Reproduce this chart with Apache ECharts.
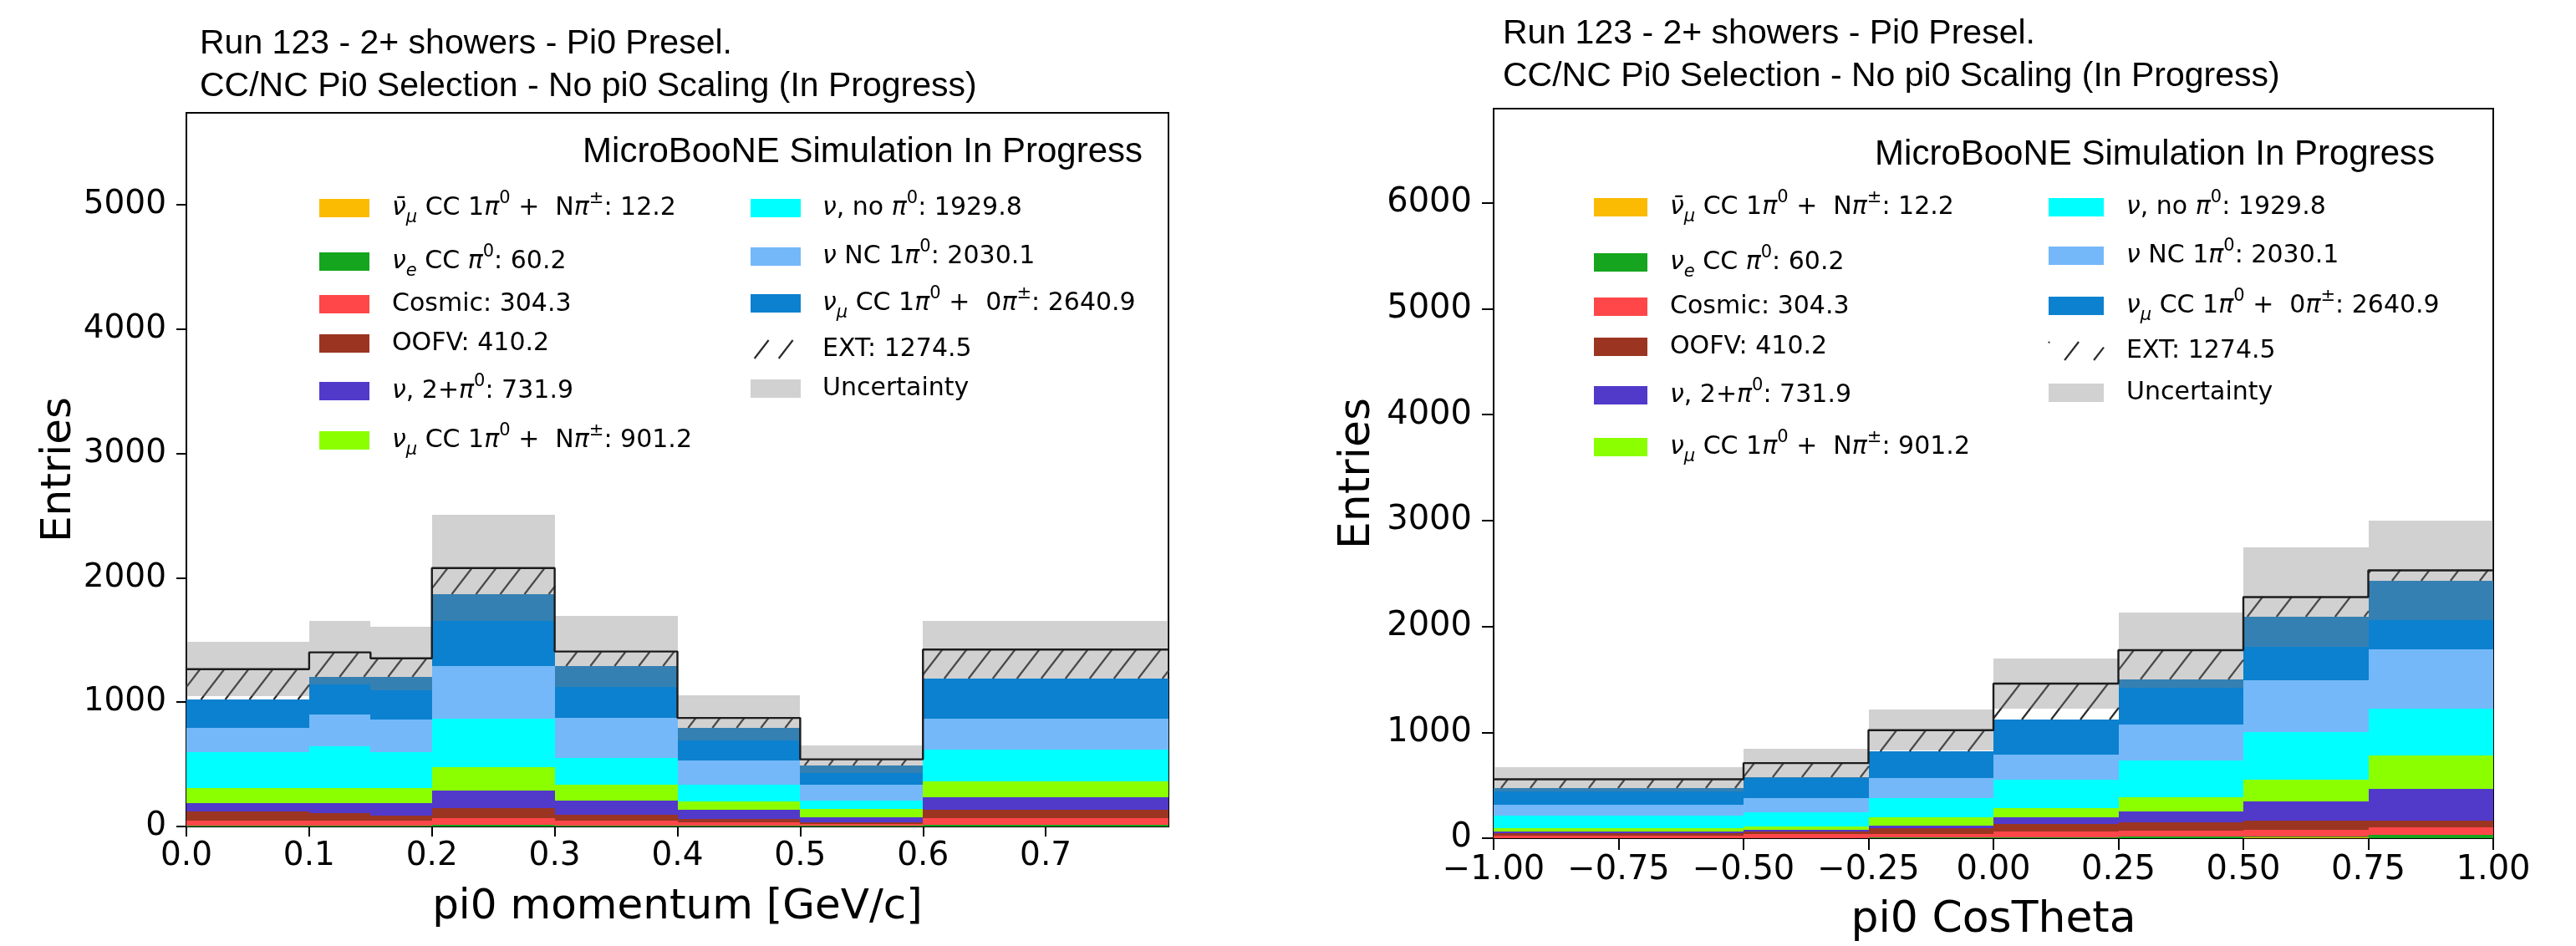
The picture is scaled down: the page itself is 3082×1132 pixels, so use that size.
<!DOCTYPE html>
<html>
<head>
<meta charset="utf-8">
<title>pi0 momentum / CosTheta - stacked</title>
<script src="https://cdn.jsdelivr.net/npm/echarts@6/dist/echarts.min.js"></script>
<style>
html, body { margin: 0; padding: 0; background: #fff; }
#chart { width: 3082px; height: 1132px; }
</style>
</head>
<body>
<div id="chart"></div>
<script>
// bin edges
var momEdges = [0.0, 0.1, 0.15, 0.2, 0.3, 0.4, 0.5, 0.6, 0.8];
var cosEdges = [-1.0, -0.5, -0.25, 0.0, 0.25, 0.5, 0.75, 1.0];

// tick labels
var momXTicks = [0.0, 0.1, 0.2, 0.3, 0.4, 0.5, 0.6, 0.7];
var momYTicks = [0, 1000, 2000, 3000, 4000, 5000];
var cosXTicks = [-1.0, -0.75, -0.5, -0.25, 0.0, 0.25, 0.5, 0.75, 1.0];
var cosYTicks = [0, 1000, 2000, 3000, 4000, 5000, 6000];

// pi0 momentum: entries per bin, bottom of the stack first
var momNumubarCC = [1.5, 1.5, 1.5, 2.5, 1.5, 1, 0.5, 2];
var momNueCC = [8, 8, 7, 11, 8, 5, 3, 10];
var momCosmic = [40, 40, 41, 54, 40, 28, 18, 55];
var momOOFV = [74, 58, 41, 79, 45, 26, 12, 67];
var momMultiPi0 = [66, 82, 101, 143, 111, 72, 42, 103];
var momNumuCCNpi = [119, 119, 117, 186, 130, 73, 64, 123];
var momNoPi0 = [292, 337, 292, 393, 213, 130, 70, 259];
var momNC1pi0 = [190, 252, 261, 420, 325, 199, 129, 249];
var momNumuCC0pi = [230, 308, 339, 582, 415, 261, 150, 325];
var momEXT = [245, 195, 152, 208, 119, 78, 52, 230];
var momUncert = [220, 256, 257, 427, 285, 183, 111, 233];

// pi0 CosTheta
var cosNumubarCC = [0.3, 0.5, 0.8, 1, 1.5, 7, 1.5];
var cosNueCC = [1.7, 2.5, 3.2, 9, 10.5, 5, 30];
var cosCosmic = [25, 33, 38, 56, 62, 70, 70];
var cosOOFV = [20, 24, 49, 69, 74, 87, 67.5];
var cosMultiPi0 = [13, 15, 29, 65, 104, 182, 299];
var cosNumuCCNpi = [31, 37, 75, 81, 138, 200, 317];
var cosNoPi0 = [125, 130, 182, 273, 346, 450, 441];
var cosNC1pi0 = [99, 140, 193, 234, 339, 492, 561];
var cosNumuCC0pi = [156, 198, 249, 334, 426, 599, 641];
var cosEXT = [85, 129, 201, 338, 275, 185, 102];
var cosUncert = [112, 138, 193, 239, 355, 473, 470];

var legendLabels = [
  '{i|ν̄}{sub|μ}{r| CC 1}{i|π}{sup|0}{r| +  N}{i|π}{sup|±}{r|: 12.2}',
  '{i|ν}{sub|e}{r| CC }{i|π}{sup|0}{r|: 60.2}',
  '{r|Cosmic: 304.3}',
  '{r|OOFV: 410.2}',
  '{i|ν}{r|, 2+}{i|π}{sup|0}{r|: 731.9}',
  '{i|ν}{sub|μ}{r| CC 1}{i|π}{sup|0}{r| +  N}{i|π}{sup|±}{r|: 901.2}',
  '{i|ν}{r|, no }{i|π}{sup|0}{r|: 1929.8}',
  '{i|ν}{r| NC 1}{i|π}{sup|0}{r|: 2030.1}',
  '{i|ν}{sub|μ}{r| CC 1}{i|π}{sup|0}{r| +  0}{i|π}{sup|±}{r|: 2640.9}',
  '{r|EXT: 1274.5}',
  '{r|Uncertainty}'
];

var colors = ['#fbbb03', '#15a51e', '#ff4649', '#9b3522', '#5139ca', '#8bff00', '#00ffff', '#74b8f9', '#0c81cf'];
var uncertFill = 'rgba(128,128,128,0.36)';
var hatchColor = '#2b2b2b';

var panels = [
  {
    edges: momEdges,
    layers: [momNumubarCC, momNueCC, momCosmic, momOOFV, momMultiPi0, momNumuCCNpi, momNoPi0, momNC1pi0, momNumuCC0pi],
    ext: momEXT, err: momUncert,
    xTicks: momXTicks, yTicks: momYTicks,
    xMin: 0, xMax: 0.8, yMax: 5740,
    xFmt: function (v) { return v.toFixed(1); },
    xName: 'pi0 momentum [GeV/c]',
    grid: { left: 223, top: 135, width: 1175, height: 854 },
    tickFont: 39, nameFont: 50, xNameGap: 72, yNameGap: 127, xMargin: 16, yMargin: 24, tickLen: 12,
    hatch: 29, phase: 15,
    title: [239, 53, 104],
    sim: [1367, 182],
    col1: { sx: 382, sw: 60, tx: 469, rows: [249, 313, 364, 411, 468, 527] },
    col2: { sx: 898, sw: 60, tx: 984, rows: [249, 307, 363, 418, 465] }
  },
  {
    edges: cosEdges,
    layers: [cosNumubarCC, cosNueCC, cosCosmic, cosOOFV, cosMultiPi0, cosNumuCCNpi, cosNoPi0, cosNC1pi0, cosNumuCC0pi],
    ext: cosEXT, err: cosUncert,
    xTicks: cosXTicks, yTicks: cosYTicks,
    xMin: -1, xMax: 1, yMax: 6890,
    xFmt: function (v) { return (v < 0 ? '\u2212' : '') + Math.abs(v).toFixed(2); },
    xName: 'pi0 CosTheta',
    grid: { left: 1787, top: 130, width: 1196, height: 882 },
    tickFont: 40, nameFont: 52, xNameGap: 72, yNameGap: 137, xMargin: 19, yMargin: 26, tickLen: 14,
    hatch: 35, phase: 2,
    title: [1798, 41, 92],
    sim: [2913, 185],
    col1: { sx: 1907, sw: 64, tx: 1998, rows: [248, 314, 367, 415, 473, 535] },
    col2: { sx: 2451, sw: 66, tx: 2544, rows: [248, 306, 366, 420, 470] }
  }
];

// hatch lines "/" clipped to a pixel box, anchored to the page so they run across bins
function hatchLines(x0, x1, yT, yB, spacing, phase) {
  var k = 0.77, out = [];
  var c = Math.ceil((x0 + yT * k - phase) / spacing) * spacing + phase;
  for (; c <= x1 + yB * k; c += spacing) {
    var ya = Math.max(yT, (c - x1) / k), yb = Math.min(yB, (c - x0) / k);
    if (yb - ya < 0.5) continue;
    out.push({ type: 'line', shape: { x1: c - yb * k, y1: yb, x2: c - ya * k, y2: ya },
      style: { stroke: hatchColor, lineWidth: 2.2 } });
  }
  return out;
}

function pixBox(api) {
  var p0 = api.coord([api.value(0), api.value(3)]);
  var p1 = api.coord([api.value(1), api.value(2)]);
  return { x0: Math.round(p0[0]), x1: Math.round(p1[0]), yT: Math.round(p0[1]), yB: Math.round(p1[1]) };
}

function fillRender(fill) {
  return function (params, api) {
    var b = pixBox(api);
    return { type: 'rect', shape: { x: b.x0, y: b.yT, width: b.x1 - b.x0, height: b.yB - b.yT }, style: { fill: fill } };
  };
}

function hatchRender(spacing, phase) {
  return function (params, api) {
    var b = pixBox(api);
    return { type: 'group', children: hatchLines(b.x0, b.x1, b.yT, b.yB, spacing, phase) };
  };
}

var richStyles = {
  r: { fontFamily: 'DejaVu Sans', fontSize: 30, lineHeight: 44, verticalAlign: 'middle', color: '#111' },
  i: { fontFamily: 'DejaVu Sans', fontSize: 30, lineHeight: 44, verticalAlign: 'middle', fontStyle: 'italic', color: '#111' },
  sup: { fontFamily: 'DejaVu Sans', fontSize: 21, lineHeight: 21, verticalAlign: 'top', color: '#111' },
  sub: { fontFamily: 'DejaVu Sans', fontSize: 21, lineHeight: 21, verticalAlign: 'bottom', fontStyle: 'italic', color: '#111' }
};

var grids = [], xAxes = [], yAxes = [], series = [], graphics = [];

panels.forEach(function (p, pi) {
  grids.push({ left: p.grid.left, top: p.grid.top, width: p.grid.width, height: p.grid.height,
    show: true, borderColor: '#000', borderWidth: 2, backgroundColor: 'transparent' });
  xAxes.push({
    gridIndex: pi, type: 'value', min: p.xMin, max: p.xMax,
    name: p.xName, nameLocation: 'middle', nameGap: p.xNameGap,
    nameTextStyle: { fontFamily: 'DejaVu Sans', fontSize: p.nameFont, color: '#000' },
    axisLine: { onZero: false, lineStyle: { color: '#000', width: 2 } },
    axisTick: { customValues: p.xTicks, length: p.tickLen, lineStyle: { color: '#000', width: 2 } },
    axisLabel: { customValues: p.xTicks, formatter: p.xFmt, margin: p.xMargin,
      fontFamily: 'DejaVu Sans', fontSize: p.tickFont, color: '#000' },
    splitLine: { show: false }
  });
  yAxes.push({
    gridIndex: pi, type: 'value', min: 0, max: p.yMax, interval: 1000,
    name: 'Entries', nameLocation: 'middle', nameGap: p.yNameGap,
    nameTextStyle: { fontFamily: 'DejaVu Sans', fontSize: p.nameFont, color: '#000' },
    axisLine: { show: true, onZero: false, lineStyle: { color: '#000', width: 2 } },
    axisTick: { show: true, customValues: p.yTicks, length: p.tickLen, lineStyle: { color: '#000', width: 2 } },
    axisLabel: { customValues: p.yTicks, margin: p.yMargin,
      formatter: function (v) { return String(Math.round(v)); },
      fontFamily: 'DejaVu Sans', fontSize: p.tickFont, color: '#000' },
    splitLine: { show: false }
  });

  var nb = p.edges.length - 1;
  var base = [];
  for (var i = 0; i < nb; i++) base.push(0);
  function stackOn(vals) {
    return vals.map(function (v, j) {
      var item = [p.edges[j], p.edges[j + 1], base[j], base[j] + v];
      base[j] += v;
      return item;
    });
  }

  p.layers.forEach(function (vals, li) {
    series.push({ type: 'custom', xAxisIndex: pi, yAxisIndex: pi, silent: true,
      renderItem: fillRender(colors[li]), data: stackOn(vals) });
  });
  series.push({ type: 'custom', xAxisIndex: pi, yAxisIndex: pi, silent: true,
    renderItem: hatchRender(p.hatch, p.phase), data: stackOn(p.ext) });

  var totals = base.slice();
  series.push({ type: 'custom', xAxisIndex: pi, yAxisIndex: pi, silent: true,
    renderItem: fillRender(uncertFill),
    data: totals.map(function (t, j) { return [p.edges[j], p.edges[j + 1], t - p.err[j], t + p.err[j]]; }) });

  var outline = [];
  totals.forEach(function (t, j) { outline.push([p.edges[j], t]); outline.push([p.edges[j + 1], t]); });
  series.push({ type: 'line', xAxisIndex: pi, yAxisIndex: pi, silent: true, symbol: 'none',
    lineStyle: { color: '#1c1c1c', width: 2.4 }, data: outline, z: 5 });

  // titles
  graphics.push({ type: 'text', x: p.title[0], y: p.title[1], style: { text: 'Run 123 - 2+ showers - Pi0 Presel.',
    font: '41px "Liberation Sans"', fill: '#000', align: 'left', verticalAlign: 'middle', textAlign: 'left', textVerticalAlign: 'middle' } });
  graphics.push({ type: 'text', x: p.title[0], y: p.title[2], style: { text: 'CC/NC Pi0 Selection - No pi0 Scaling (In Progress)',
    font: '41px "Liberation Sans"', fill: '#000', align: 'left', verticalAlign: 'middle', textAlign: 'left', textVerticalAlign: 'middle' } });
  graphics.push({ type: 'text', x: p.sim[0], y: p.sim[1], z: 20, style: { text: 'MicroBooNE Simulation In Progress',
    font: '42px "Liberation Sans"', fill: '#000', align: 'right', verticalAlign: 'middle', textAlign: 'right', textVerticalAlign: 'middle' } });

  // legend
  var handles = colors.concat(['ext', 'unc']);
  handles.forEach(function (h, k) {
    var col = k < 6 ? p.col1 : p.col2;
    var row = k < 6 ? k : k - 6;
    var cy = col.rows[row];
    if (h === 'ext') {
      graphics.push({ type: 'group', z: 20, children: hatchLines(col.sx, col.sx + col.sw, cy - 11, cy + 11, p.hatch, p.phase) });
    } else {
      graphics.push({ type: 'rect', z: 20, shape: { x: col.sx, y: cy - 11, width: col.sw, height: 22 },
        style: { fill: h === 'unc' ? uncertFill : h } });
    }
    graphics.push({ type: 'text', z: 20, x: col.tx, y: cy, style: { text: legendLabels[k], rich: richStyles,
      align: 'left', verticalAlign: 'middle', textAlign: 'left', textVerticalAlign: 'middle' } });
  });
});

var chart = echarts.init(document.getElementById('chart'), null, { renderer: 'canvas' });
chart.setOption({
  animation: false,
  backgroundColor: '#fff',
  grid: grids,
  xAxis: xAxes,
  yAxis: yAxes,
  series: series,
  graphic: { elements: graphics }
});
</script>
</body>
</html>
